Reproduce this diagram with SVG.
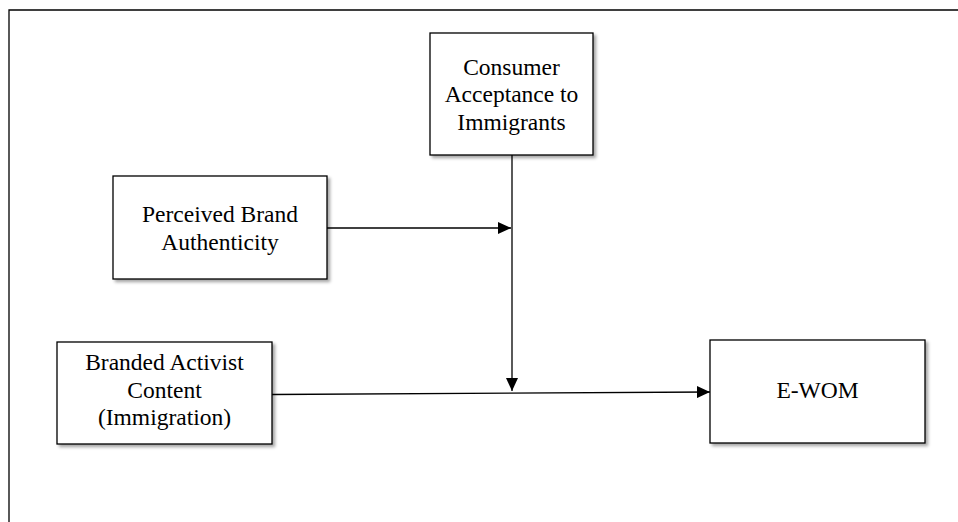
<svg xmlns="http://www.w3.org/2000/svg" width="958" height="522" viewBox="0 0 958 522">
<style>
.box{fill:#fff;stroke:#000;stroke-width:1.3;filter:url(#sh)}
.t{font-family:"Liberation Serif","Times New Roman",serif;font-size:23.5px;fill:#000;text-anchor:middle}
.c{stroke:#000;stroke-width:1.3;fill:none;marker-end:url(#ah)}
</style>
<defs>
<filter id="sh" x="-10%" y="-10%" width="130%" height="130%">
<feDropShadow dx="2.5" dy="2.5" stdDeviation="1.5" flood-color="#000" flood-opacity="0.35"/>
</filter>
<marker id="ah" markerWidth="13" markerHeight="12" refX="13" refY="6" orient="auto" markerUnits="userSpaceOnUse">
<path d="M0,0 L13,6 L0,12 Z" fill="#000"/>
</marker>
</defs>
<rect width="958" height="522" fill="#fff"/>
<path d="M9,522 V10 H958" stroke="#000" stroke-width="1.3" fill="none"/>
<g id="consumer">
<rect class="box" x="430" y="33" width="163" height="122"/>
<text class="t" x="511.5" y="75">Consumer</text>
<text class="t" x="511.5" y="102">Acceptance to</text>
<text class="t" x="511.5" y="130">Immigrants</text>
</g>
<g id="perceived">
<rect class="box" x="113" y="176" width="214" height="103"/>
<text class="t" x="220" y="222">Perceived Brand</text>
<text class="t" x="220" y="250">Authenticity</text>
</g>
<g id="branded">
<rect class="box" x="57" y="342" width="215" height="102"/>
<text class="t" x="164.5" y="370">Branded Activist</text>
<text class="t" x="164.5" y="398">Content</text>
<text class="t" x="164.5" y="425">(Immigration)</text>
</g>
<g id="ewom">
<rect class="box" x="710" y="340" width="215" height="103"/>
<text class="t" x="817.5" y="398">E-WOM</text>
</g>
<g id="connectors">
<line class="c" x1="327" y1="228" x2="511" y2="228"/>
<line class="c" x1="512" y1="155" x2="512" y2="391"/>
<line class="c" x1="272" y1="394.5" x2="710" y2="392"/>
</g>
</svg>
